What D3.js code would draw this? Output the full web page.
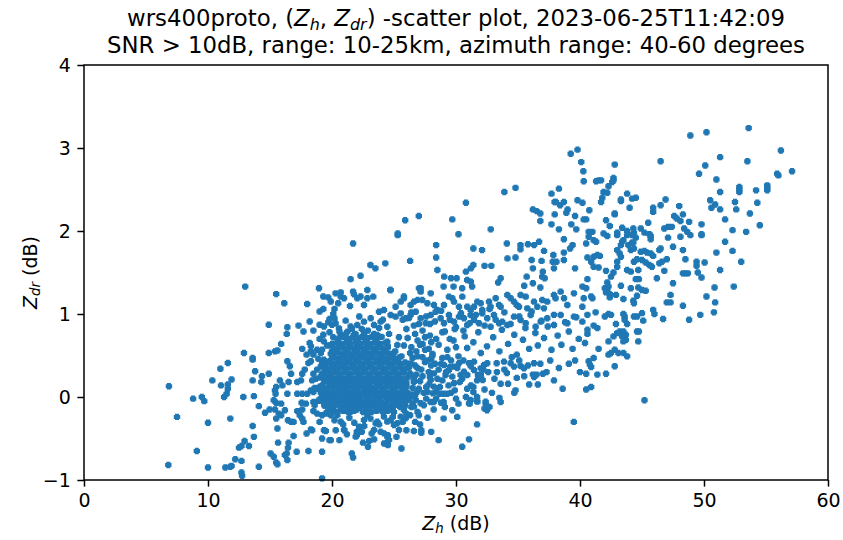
<!DOCTYPE html>
<html><head><meta charset="utf-8">
<script src="https://cdn.jsdelivr.net/npm/d3@7"></script>
<style>body{margin:0;background:#fff}svg{display:block}text{font-family:"DejaVu Sans",sans-serif}</style>
</head><body><svg id="c" width="843" height="540"></svg>
<script>
const xTicks=[0,10,20,30,40,50,60];
const yTicks=[-1,0,1,2,3,4];
const xDomain=[0,60], yDomain=[-1,4];
const leftPoints=[[6.85,0.13],[6.8,-0.82],[7.5,-0.24],[8.8,-0.02],[9.5,0.00],[9.7,-0.05],[9.1,-0.65],[10.0,-0.31],[10.0,-0.85],[10.35,0.20],[11.0,0.34],[11.6,0.41],[11.05,0.14],[11.6,0.15],[11.6,0.10],[11.9,0.21],[11.3,0.00],[11.5,0.04],[11.8,-0.26],[11.4,-0.85],[11.8,-0.84],[11.9,-0.83],[12.7,-0.91],[12.7,-0.77],[12.2,-0.75],[12.5,-0.61],[12.7,-0.59],[12.95,-0.53],[13.3,-0.59],[14.1,-0.84],[12.85,0.00],[13.6,0.20],[13.8,0.31],[13.6,0.45],[13.7,0.01],[13.6,-0.35],[13.7,-0.48],[14.1,-0.11],[14.35,0.25],[14.3,0.18],[14.9,0.28],[14.6,-0.19],[14.97,-0.15],[15.4,-0.15],[15.05,-0.68],[15.3,-0.72],[15.5,-0.79],[15.6,-0.81],[15.6,-0.38],[15.65,-0.55],[15.5,-0.26],[15.7,-0.20],[15.9,-0.22],[15.4,0.08],[15.5,0.12],[15.45,0.04],[15.3,-0.04],[15.5,-0.07],[15.9,-0.08],[15.8,0.20],[16.0,0.14],[16.4,0.04],[16.5,0.18],[16.7,0.28],[16.35,-0.68],[16.2,-0.70],[16.4,-0.76],[16.45,-0.61],[16.5,-0.55],[16.2,-0.16],[16.45,-0.28],[16.7,-0.30],[16.9,-0.30],[16.9,-0.47],[17.15,-0.66],[18.1,-0.65],[19.2,-0.66],[19.2,-0.50],[19.8,-0.52],[17.2,-0.17],[17.6,-0.15],[17.4,-0.22],[17.7,-0.30],[17.6,-0.26],[17.95,-0.44],[18.3,-0.39],[18.4,-0.40],[18.5,-0.17],[18.8,-0.20],[19.2,-0.22],[19.5,-0.20],[19.9,-0.22],[19.35,-0.40],[19.5,-0.41],[19.9,-0.52],[17.55,-0.07],[17.9,-0.08],[17.2,0.04],[17.6,0.04],[18.0,0.04],[18.3,0.08],[18.5,0.06],[18.8,0.10],[19.1,0.12],[17.2,0.18],[17.5,0.20],[17.6,0.28],[17.8,0.33],[18.1,0.41],[18.3,0.43],[18.5,0.28],[18.8,0.33],[19.1,0.37],[19.2,0.41],[19.35,0.45],[19.6,0.24],[19.9,0.20],[20.1,0.12],[16.4,0.43],[16.6,0.37],[19.2,-0.98],[12.75,-0.95],
[13.0,1.33],[15.5,1.24],[16.15,1.13],[14.9,0.87],[12.9,0.53],[13.6,0.47],[14.9,0.53],[15.4,0.55],[15.6,0.56],[15.9,0.64],[16.4,0.84],[16.35,0.76],[17.3,0.86],[17.7,0.79],[18.2,0.91],[18.5,0.80],[18.0,1.12],[18.95,1.31],[19.3,1.21],[19.0,1.03],[19.3,1.06],[20.2,1.06],[19.0,0.87],[19.35,0.85],[19.8,0.94],[19.7,0.90],[20.0,0.87],[17.6,0.58],[17.95,0.51],[18.3,0.55],[18.5,0.51],[18.8,0.57],[19.1,0.53],[18.2,0.65],[18.3,0.61],[19.3,0.75],[19.35,0.67],[19.2,0.57],[19.9,1.15],[20.1,1.0],[19.8,0.78],[20.1,0.72],[19.9,0.62],[20.0,0.55],[19.6,0.62],[19.7,1.2]];
const upperPoints=[[39.25,2.93],[39.8,2.98],[40.1,2.83],[40.27,2.72],[40.3,2.60],[33.9,2.47],[34.8,2.52],[30.8,2.34],[37.7,2.45],[38.3,2.51],[37.95,2.35],[38.06,2.35],[38.4,2.31],[38.7,2.35],[39.0,2.26],[38.9,2.22],[39.8,2.37],[40.2,2.34],[36.2,2.26],[36.5,2.24],[36.8,2.21],[36.8,2.12],[37.96,2.20],[37.7,2.08],[38.3,2.02],[39.3,2.08],[39.6,2.18],[39.7,2.02],[40.3,2.14],[25.9,2.13],[27.0,2.18],[29.7,2.14],[32.8,2.02],[25.3,1.97],[30.2,1.96],
[48.9,3.15],[50.2,3.19],[53.6,3.24],[56.2,2.97],[46.5,2.84],[51.3,2.89],[53.5,2.84],[49.6,2.69],[50.1,2.79],[51.0,2.62],[55.9,2.69],[56.0,2.67],[57.1,2.72],[51.3,2.47],[52.85,2.53],[52.85,2.50],[52.85,2.47],[55.1,2.55],[55.1,2.52],[55.1,2.49],[54.2,2.49],[54.3,2.34],[53.7,2.21],[54.5,2.07],[52.5,2.35],[52.6,2.26],[50.5,2.37],[50.9,2.32],[50.6,2.28],[51.3,2.26],[51.7,2.14],[49.8,2.08],[52.3,2.01],[53.4,1.99],[49.8,1.96],[42.8,2.80],[41.3,2.60],[41.5,2.61],[41.7,2.61],[42.7,2.64],[42.7,2.61],[42.6,2.59],[42.3,2.54],[41.9,2.47],[42.2,2.46],[41.8,2.40],[41.7,2.35],[43.8,2.45],[43.3,2.38],[43.3,2.36],[44.2,2.39],[44.5,2.40],[44.0,2.28],[40.75,2.25],[40.5,2.14],[42.8,2.21],[42.8,2.20],[42.1,2.13],[42.4,2.06],[46.9,2.38],[46.5,2.31],[45.9,2.28],[45.9,2.23],[45.5,2.10],[48.0,2.30],[48.3,2.20],[47.6,2.18],[47.8,2.15],[48.1,2.12],[48.8,2.11],[46.8,2.03],[47.1,2.05],[47.4,2.05],[48.4,2.03],[48.65,1.99],[40.7,1.99],[41.0,1.99],[41.9,1.97],[43.0,1.98],[43.4,2.04],[43.8,2.0],[44.3,2.03],[44.35,1.98],[44.9,2.03],[45.2,1.98],[45.6,1.96]];
const rightPoints=[[51.7,1.87],[52.3,1.76],[53.0,1.63],[51.0,1.74],[51.3,1.53],[52.4,1.33],[50.85,1.32],[50.2,1.21],[50.9,1.14],[50.8,1.02],[49.7,0.99],[48.8,0.93],[48.3,1.10],[47.5,1.37],[47.3,1.23],[47.0,1.14],[47.3,1.14],[46.7,0.94],[48.3,1.49],[48.5,1.49],[48.7,1.49],[49.4,1.63],[49.4,1.58],[50.05,1.62],[49.5,1.50],[49.8,1.44],[48.5,1.66],[48.3,1.77],[47.5,1.81],[46.2,1.43],[46.8,1.52],[47.0,1.66],[45.9,1.05],[46.0,1.00],[45.0,1.01],[44.35,0.97],[44.6,0.97],[45.1,0.92],[44.6,0.79],[44.75,0.79],[44.7,0.67],[43.5,1.0],[43.6,0.97],[43.6,0.93],[43.8,0.88],[42.9,0.88],[42.3,1.0],[42.5,0.99],[42.0,0.97],[43.2,0.79],[43.5,0.79],[43.7,0.75],[43.4,0.73],[43.7,0.69],[43.5,0.67],[43.0,0.77],[42.7,0.73],[42.3,0.67],[41.5,0.58],[42.3,0.51],[42.5,0.53],[42.8,0.57],[43.1,0.53],[43.5,0.53],[43.8,0.49],[41.1,0.86],[41.4,0.83],[40.6,0.81],[40.6,0.99],[41.26,1.02],[41.1,0.47],[40.4,0.65],[44.3,1.16],[44.35,1.13],[44.6,1.22],[43.5,1.18],[42.9,1.23],[43.3,1.34],[44.1,1.31],[44.7,1.32],[45.0,1.29],[45.3,1.28],[44.5,1.42],[44.75,1.42],[41.0,1.19],[40.9,1.21],[40.5,1.31],[40.6,1.42],[42.2,1.38],[42.3,1.33],[42.2,1.28],[42.4,1.24],[42.4,1.20],[42.1,1.26],[42.0,1.31],[42.5,1.45],[42.7,1.50],[43.0,1.57],[43.0,1.63],[43.3,1.69],[43.2,1.73],[43.0,1.77],[43.3,1.83],[43.4,1.87],[43.5,1.89],[43.8,1.95],[43.9,1.83],[44.1,1.77],[44.2,1.86],[44.35,1.79],[44.3,1.86],[44.5,1.92],[44.9,1.75],[45.2,1.76],[45.4,1.74],[45.7,1.73],[45.9,1.70],[45.0,1.65],[45.3,1.62],[45.6,1.59],[45.8,1.57],[44.35,1.63],[44.6,1.66],[44.1,1.51],[44.7,1.53],[43.8,1.53],[46.4,1.61],[46.6,1.63],[41.4,1.71],[41.6,1.70],[41.1,1.69],[40.6,1.68],[40.9,1.63],[41.1,1.57],[41.5,1.56],[42.1,1.52],[41.1,1.89],[41.3,1.87],[40.5,1.85],[40.7,1.93],[42.2,1.94],[43.0,1.95],[44.2,1.95],[45.7,1.94],[47.1,1.92],[48.1,1.93],[48.9,1.95],[49.8,1.95],[46.4,1.77],[46.5,1.79],[45.7,1.90],[40.3,1.19],[40.6,0.76],
[40.7,0.43],[40.8,0.39],[40.9,0.36],[42.8,0.37],[40.5,0.28],[41.4,0.27],[42.1,0.28],[40.5,0.09],[40.9,0.12],[45.2,-0.04]];
const middlePoints=[[39.5,-0.30],[39.1,0.40],[39.6,0.44],[40.0,0.30],[37.3,0.30],[37.0,0.28],[36.5,0.27],[36.2,0.27],[36.6,0.15],[36.3,0.24],[35.5,0.25],[34.9,0.23],[34.7,0.05],[34.8,0.08],[34.2,0.16],[33.6,0.16],[34.1,0.29],[33.5,-0.01],[33.6,-0.06],[32.7,-0.12],[32.4,-0.08],[32.3,-0.14],[32.5,-0.16],[31.7,0.00],[31.7,-0.05],[31.1,-0.08],[31.4,0.06],[31.2,0.14],[30.9,0.10],[31.4,0.12],[31.7,0.20],[31.85,0.24],[32.0,0.27],[32.2,0.33],[32.3,0.09],[31.7,-0.33],[31.05,-0.51],[30.5,-0.60],[30.1,-0.24],[29.7,-0.16],[29.9,0.08],[29.6,0.05],[29.3,0.04],[29.0,0.04],[28.7,0.04],[29.0,-0.06],[28.8,-0.07],[28.2,-0.06],[27.95,-0.06],[28.4,0.06],[29.0,-0.26],[28.0,-0.42],[28.6,-0.52],[27.2,-0.40],[27.2,-0.43],[26.6,-0.41],[27.1,-0.33],[25.6,-0.62],[24.5,-0.58],[24.5,-0.54],[24.2,-0.56],[24.5,-0.46],[23.4,-0.51],[23.0,-0.53],[22.9,-0.60],[21.6,-0.68],[21.7,-0.73],[22.0,-0.42],[22.2,-0.40],[22.0,-0.46],[22.4,-0.42],[21.0,-0.40],
[29.03,0.386],[29.43,0.325],[29.84,0.366],[30.24,0.406],[30.37,0.265],[29.70,0.245],[29.84,0.165],[29.16,0.265],[28.22,0.285],[27.96,0.205],[28.22,0.125],[27.69,0.064],[28.12,0.044],[26.88,0.064],[26.75,-0.036],[27.15,-0.076],[26.61,-0.116],[26.34,0.004],[25.94,-0.036],[25.80,-0.156],[25.54,-0.237],[25.94,-0.257],[25.27,-0.317],[25.40,-0.397],[25.00,-0.337],[24.73,-0.277],[24.46,-0.297],[24.19,-0.237],[23.65,-0.297],[23.52,-0.317],[23.92,-0.418],[24.19,-0.438],[24.46,-0.478],[24.60,-0.518],[23.39,-0.398],[22.58,-0.277],[22.18,-0.357],[22.04,-0.438],[22.31,-0.418],[21.91,-0.478],[20.97,-0.398],[20.70,-0.297],[20.43,-0.217],[20.83,-0.156],[21.37,-0.156],[21.50,-0.177],[22.85,-0.217],[22.85,-0.116],[23.12,-0.076],[22.71,0.044],[31.05,0.406],[31.45,0.426],[31.99,0.345],[32.26,0.386],[32.52,0.406],[33.28,0.406],[33.87,0.426],[34.41,0.406],[34.68,0.366],[35.21,0.374],[35.48,0.345],[36.29,0.406],[30.64,0.305],[30.91,0.265],[31.45,0.325],[31.77,0.265],[31.99,0.253],[32.15,0.205],[31.18,-0.036],[31.72,-0.056],[32.39,-0.056],[32.52,-0.116],[31.05,-0.076],
[21.7,1.85],[25.3,1.95],[28.4,1.83],[28.4,1.68],[26.3,1.64],[23.1,1.59],[23.5,1.55],[24.3,1.61],[21.5,1.42],[22.3,1.46],[28.5,1.53],[31.4,1.79],[32.1,1.77],[34.1,1.85],[35.2,1.83],[35.2,1.78],[35.8,1.84],[36.3,1.83],[36.7,1.87],[37.1,1.76],[38.7,1.90],[39.4,1.83],[39.2,1.79],[38.7,1.74],[37.85,1.71],[37.8,1.63],[38.1,1.63],[38.7,1.65],[39.6,1.55],[40.2,1.33],[34.15,1.67],[34.8,1.68],[36.1,1.65],[36.9,1.64],[37.9,1.55],[37.0,1.51],[36.95,1.45],[37.15,1.43],[36.2,1.55],[36.2,1.37],[36.8,1.32],[35.7,1.45],[35.5,1.34],[33.6,1.43],[33.4,1.38],[32.3,1.58],[32.85,1.58],[31.4,1.59],[31.2,1.55],[30.8,1.51],[30.9,1.41],[31.2,1.39],[31.3,1.33],[30.5,1.31],[29.8,1.33],[29.05,1.45],[29.0,1.33],[29.6,1.43],[30.05,1.43],[27.15,1.31],[26.9,1.17],[25.8,1.21],[24.7,1.29],[22.85,1.29],[22.3,1.21],[21.7,1.27],[20.7,1.21],[20.5,1.13],
[25.54,1.149],[25.80,1.189],[26.34,1.108],[26.61,1.149],[27.01,1.309],[27.15,1.269],[27.28,1.169],[27.69,1.129],[27.96,1.249],[28.22,1.108],[28.49,1.048],[29.03,1.108],[29.43,1.209],[29.70,1.189],[29.84,1.149],[30.24,1.088],[30.51,1.209],[30.91,1.088],[31.18,1.048],[31.45,1.088],[31.72,1.149],[31.99,1.129],[32.12,1.048],[32.66,1.149],[32.79,1.088],[33.20,1.189],[33.47,1.108],[33.60,1.088],[34.14,1.229],[34.41,1.189],[34.68,1.149],[34.89,1.108],[35.08,1.088],[35.21,1.229],[35.62,1.209],[35.75,1.068],[36.29,1.149],[36.56,1.088],[36.96,1.169],[37.09,1.068],[37.36,1.149],[37.90,1.229],[38.03,1.189],[38.44,1.269],[38.71,1.189],[38.98,1.108],[39.51,1.249],[40.19,1.088],
[25.54,1.008],[25.94,0.948],[26.34,0.988],[26.75,1.028],[27.15,0.948],[27.55,0.888],[27.96,0.988],[28.36,1.028],[28.76,0.948],[29.03,0.888],[29.43,0.988],[29.84,0.908],[30.24,0.968],[30.64,0.948],[30.91,0.867],[31.18,0.988],[31.45,0.928],[31.85,0.888],[32.12,1.008],[32.52,0.948],[32.79,0.847],[33.06,0.988],[33.47,0.888],[33.73,0.908],[34.14,0.867],[34.68,0.968],[35.21,0.928],[35.62,0.888],[36.02,0.988],[36.42,0.847],[36.83,0.908],[37.36,0.948],[37.90,0.867],[38.44,0.988],[38.98,0.888],[39.51,0.968],[40.19,0.908],
[20.29,1.249],[20.70,1.261],[20.97,1.189],[21.45,1.096],[21.77,1.237],[22.04,1.189],[22.58,1.108],[22.85,1.189],[23.33,1.209],[23.79,1.028],[24.19,1.048],[24.73,1.289],[25.13,1.088],[20.29,0.888],[20.56,0.827],[21.24,0.787],[21.77,0.747],[22.04,0.867],[22.58,0.908],[23.12,0.948],[23.39,0.867],[23.92,0.908],[24.46,0.847],[24.73,0.988],[25.13,0.968],[20.70,0.747],[21.37,0.667],[22.04,0.627],[22.85,0.707],[23.65,0.747],[24.46,0.667],[25.27,0.627],
[26.0,0.82],[26.7,0.76],[27.3,0.80],[26.4,0.60],[27.1,0.63],[27.8,0.58],[28.4,0.70],[27.5,0.72],[28.9,0.78],[29.5,0.70],[28.1,0.50],[29.3,0.48],[30.0,0.60],[30.6,0.80],[29.9,0.82],[26.2,0.95],[27.9,0.88],
[26.2,0.40],[26.9,0.35],[27.5,0.42],[28.0,0.38],[28.6,0.33],[27.3,0.25],[26.6,0.18],[27.8,0.15],[28.5,0.22],[26.3,0.28],[27.0,0.10],[25.9,0.05],[26.5,-0.08],[27.6,-0.02],[28.9,0.20],[29.4,0.14]];
const midBand=[[25.7,0.93],[26.1,0.71],[26.4,1.02],[26.8,0.55],[27.0,0.88],[27.3,0.64],[27.6,0.97],[27.9,0.74],[28.1,0.52],[28.3,0.91],[28.6,0.63],[28.8,1.04],[29.1,0.79],[29.3,0.57],[29.5,0.93],[29.8,0.68],[30.0,0.84],[30.2,0.49],[30.4,1.01],[30.7,0.73],[30.9,0.59],[31.1,0.89],[31.4,0.66],[31.6,0.99],[31.8,0.78],[32.0,0.53],[32.3,0.86],[32.5,0.61],[32.7,1.06],[33.0,0.72],[33.2,0.93],[33.5,0.55],[33.7,0.81],[33.9,1.02],[34.2,0.64],[34.4,0.88],[34.7,0.75],[34.9,0.51],[35.1,0.97],[35.4,0.69],[35.6,0.83],[35.9,0.58],[36.1,1.03],[36.4,0.77],[36.6,0.62],[36.9,0.92],[37.1,0.71],[37.4,0.85],[37.7,0.57],[37.9,0.99],[38.2,0.74],[38.5,0.63],[38.8,0.90],[39.1,0.79],[39.4,0.58],[39.7,0.96],[39.9,0.70],
[26.5,0.47],[27.2,0.33],[27.7,0.44],[28.3,0.40],[28.9,0.47],[29.6,0.44],[30.1,0.35],[30.6,0.44],[31.2,0.37],[32.6,0.30],[33.1,0.22],[33.9,0.33],[34.5,0.48],[35.1,0.44],[35.8,0.38],[36.8,0.40],[37.6,0.44],[38.3,0.35],[29.2,0.30],[30.3,0.18],[30.8,0.00],[30.2,-0.08],[32.9,0.05],[33.3,0.30],[35.9,0.15],[37.9,0.20],[38.6,0.10],
[20.2,-0.28],[20.9,-0.33],[21.4,-0.25],[21.8,-0.31],[22.6,-0.35],[23.1,-0.26],[23.8,-0.33],[24.9,-0.24],[25.7,-0.30],[26.3,-0.22],[26.9,-0.18],[21.2,-0.45],[23.2,-0.44],[25.2,-0.48],[26.0,-0.40],[20.6,-0.52],[22.5,-0.55],
[26.7,0.02],[27.1,0.19],[27.4,-0.10],[27.8,0.30],[28.2,-0.15],[26.9,0.49],[27.6,0.12],[28.7,0.12],[28.0,0.46],[29.1,-0.12],[29.5,0.36],[30.0,-0.02],[30.5,0.22],
[26.8,0.27],[27.4,0.05],[27.9,0.24],[28.4,-0.02],[27.0,-0.22],[27.7,-0.25],[28.8,0.40],[26.7,0.38],[27.3,0.48],
[20.6,0.79],[21.5,0.85],[22.9,0.80],[23.8,0.83],[24.6,0.76],[25.4,0.72],[20.2,0.95],[21.1,0.92],[22.2,0.97],[24.1,0.93],[25.8,0.62],[26.3,0.53],[26.9,0.68],[27.5,0.57],[28.0,0.66],[26.6,0.86],[19.0,0.70],[18.9,0.46],[18.4,0.20],[18.6,-0.10],[19.0,-0.30],[20.3,-0.40],[24.0,-0.15],[26.0,-0.20],[26.7,-0.30]];
// dense core: rows of [Zdr, [Zh values]]
const coreRows=[
[-0.18,[19.6,20.4,21.3,22.5,23.2,24.1,25.0]],
[-0.165,[20.0,20.9,21.8,22.9,23.6,24.5]],
[-0.15,[20.0,21.0,22.0,22.9,23.7,24.6]],
[-0.12,[19.8,20.7,21.5,22.2,23.0,23.8,24.6,25.5,26.4]],
[-0.105,[19.4,20.2,21.1,21.9,22.6,23.4,24.2,25.0,25.9]],
[-0.09,[19.4,20.3,21.2,21.9,22.7,23.5,24.3,25.2]],
[-0.06,[18.5,19.3,20.1,20.9,21.6,22.4,23.3,24.0,24.9,25.7]],
[-0.045,[18.9,19.7,20.5,21.2,22.0,22.8,23.6,24.5,25.3,26.0]],
[-0.03,[19.0,19.9,20.6,21.3,22.1,22.9,23.7,24.6,25.4,26.2]],
[0.00,[19.5,20.3,21.1,21.8,22.7,23.5,24.3,25.1,25.9]],
[0.015,[19.2,19.9,20.7,21.5,22.3,23.1,23.9,24.7,25.5,26.3]],
[0.03,[19.3,20.0,20.8,21.6,22.4,23.2,24.0,24.8,25.6,26.5]],
[0.05,[19.1,19.9,20.6,21.4,22.1,22.9,23.7,24.5,25.3,26.1]],
[0.065,[19.5,20.2,21.0,21.8,22.5,23.3,24.1,24.9,25.7]],
[0.08,[19.6,20.4,21.2,22.0,22.8,23.5,24.2,25.0,25.9]],
[0.11,[18.6,19.4,20.2,20.9,21.7,22.5,23.2,24.0,24.8,25.6,26.5]],
[0.125,[19.0,19.8,20.6,21.3,22.1,22.9,23.6,24.4,25.2,26.0]],
[0.14,[19.2,20.0,20.8,21.5,22.3,23.0,23.9,24.7,25.5]],
[0.17,[19.8,20.5,21.3,22.0,22.8,23.6,24.4,25.2,26.0]],
[0.185,[19.4,20.1,20.9,21.7,22.4,23.2,24.0,24.8,25.6]],
[0.20,[19.4,20.2,21.0,21.7,22.5,23.3,24.1,24.8,25.6]],
[0.22,[18.7,19.5,20.3,21.0,21.8,22.6,23.4,24.2,24.9,25.7,26.6]],
[0.235,[19.1,19.9,20.7,21.4,22.2,23.0,23.8,24.6,25.3,26.1]],
[0.25,[19.1,19.9,20.6,21.4,22.2,23.0,23.7,24.5,25.3]],
[0.28,[19.2,20.0,20.7,21.5,22.3,23.1,23.9,24.6,25.4,26.3]],
[0.295,[19.6,20.4,21.1,21.9,22.7,23.5,24.3,25.0,25.8]],
[0.31,[19.5,20.3,21.1,21.9,22.6,23.4,24.2,25.0,25.8]],
[0.34,[19.7,20.4,21.2,22.0,22.7,23.5,24.3,25.1,25.9]],
[0.355,[19.3,20.0,20.8,21.6,22.3,23.1,23.9,24.7,25.5,26.2]],
[0.37,[19.4,20.2,21.0,21.7,22.4,23.1,23.9,24.7,25.5]],
[0.40,[19.3,20.1,20.8,21.6,22.4,23.2,24.0,24.8,25.5,26.4]],
[0.415,[19.7,20.5,21.2,22.0,22.8,23.6,24.4,25.1,25.9]],
[0.43,[19.8,20.6,21.4,22.1,22.9,23.7,24.5,25.3]],
[0.46,[20.4,21.1,21.9,22.7,23.5,24.2,25.0]],
[0.475,[20.0,20.8,21.5,22.3,23.1,23.9,24.6,25.4]],
[0.49,[20.1,20.9,21.7,22.5,23.2,24.0,24.8,25.6]],
[0.52,[19.9,20.7,21.4,22.2,23.0,23.8,24.6]],
[0.535,[20.3,21.1,21.8,22.6,23.4,24.2,25.0]],
[0.55,[20.4,21.2,22.0,22.7,23.5,24.3,25.1]],
[0.58,[20.2,21.0,21.8,22.5,23.3,24.1]],
[0.595,[20.6,21.4,22.1,22.9,23.7,24.5]],
[0.61,[20.6,21.4,22.2,22.9,23.7,24.5]],
[0.64,[20.0,20.8,21.5,22.3,23.1,23.9]],
[0.655,[20.4,21.2,22.0,22.7,23.5,24.3]],
[0.67,[21.2,21.9,22.7,23.5]],
[0.70,[20.5,21.3,22.1,22.8,23.6]],
[0.725,[20.9,21.7,22.4,23.2,24.0]],
[0.76,[21.1,21.9,22.6,23.4]],
[0.82,[21.6,22.4]]];

const corePoints=coreRows.flatMap(([y,xs])=>xs.map(x=>[x,y]));
const allPoints=[].concat(leftPoints,middlePoints,midBand,corePoints,rightPoints,upperPoints);

const W=843,H=540,m={l:84,r:15,t:65,b:60};
const svg=d3.select("#c");
const x=d3.scaleLinear().domain(xDomain).range([m.l,W-m.r]);
const y=d3.scaleLinear().domain(yDomain).range([H-m.b,m.t]);
const marker="M-2,-3.2h4v1.2h1.2v4h-1.2v1.2h-4v-1.2h-1.2v-4h1.2z";

svg.append("g").selectAll("path").data(allPoints).join("path")
 .attr("d",marker)
 .attr("transform",d=>`translate(${x(d[0])},${y(d[1])})`)
 .attr("fill","#1f77b4");

const fs=19, tl=6.6, lw=1.5;
const fmt=d=>d<0?"\u2212"+Math.abs(d):String(d);
const xa=svg.append("g").attr("transform",`translate(0,${H-m.b})`)
 .call(d3.axisBottom(x).tickValues(xTicks).tickFormat(fmt).tickSize(tl).tickPadding(6.6));
const ya=svg.append("g").attr("transform",`translate(${m.l},0)`)
 .call(d3.axisLeft(y).tickValues(yTicks).tickFormat(fmt).tickSize(tl).tickPadding(6.6));
[xa,ya].forEach(a=>{a.select(".domain").remove();a.selectAll("line").attr("stroke","#000").attr("stroke-width",lw);
 a.selectAll("text").attr("font-size",fs).attr("fill","#000").attr("font-family","DejaVu Sans");});
svg.append("rect").attr("x",m.l).attr("y",m.t).attr("width",W-m.l-m.r).attr("height",H-m.t-m.b)
 .attr("fill","none").attr("stroke","#000").attr("stroke-width",lw);

function mathLabel(t,parts,size){
 parts.forEach(p=>{
  const ts=t.append("tspan").text(p.t);
  if(p.i) ts.attr("font-style","italic");
  if(p.sub) ts.attr("font-size",size*0.7).attr("baseline-shift","-22%");
 });
}
const cx=(m.l+W-m.r)/2, ts=22.8;
const t1=svg.append("text").attr("x",cx).attr("y",26).attr("text-anchor","middle").attr("font-size",ts);
mathLabel(t1,[{t:"wrs400proto, ("},{t:"Z",i:1},{t:"h",i:1,sub:1},{t:", "},{t:"Z",i:1},{t:"dr",i:1,sub:1},{t:") -scatter plot, 2023-06-25T11:42:09"}],ts);
svg.append("text").attr("x",cx).attr("y",53).attr("text-anchor","middle").attr("font-size",ts)
 .text("SNR > 10dB, range: 10-25km, azimuth range: 40-60 degrees");
const xl=svg.append("text").attr("x",cx).attr("y",530).attr("text-anchor","middle").attr("font-size",fs);
mathLabel(xl,[{t:"Z",i:1},{t:"h",i:1,sub:1},{t:" (dB)"}],fs);
const yl=svg.append("text").attr("transform",`translate(37,${(m.t+H-m.b)/2}) rotate(-90)`).attr("text-anchor","middle").attr("font-size",fs);
mathLabel(yl,[{t:"Z",i:1},{t:"dr",i:1,sub:1},{t:" (dB)"}],fs);
</script></body></html>
